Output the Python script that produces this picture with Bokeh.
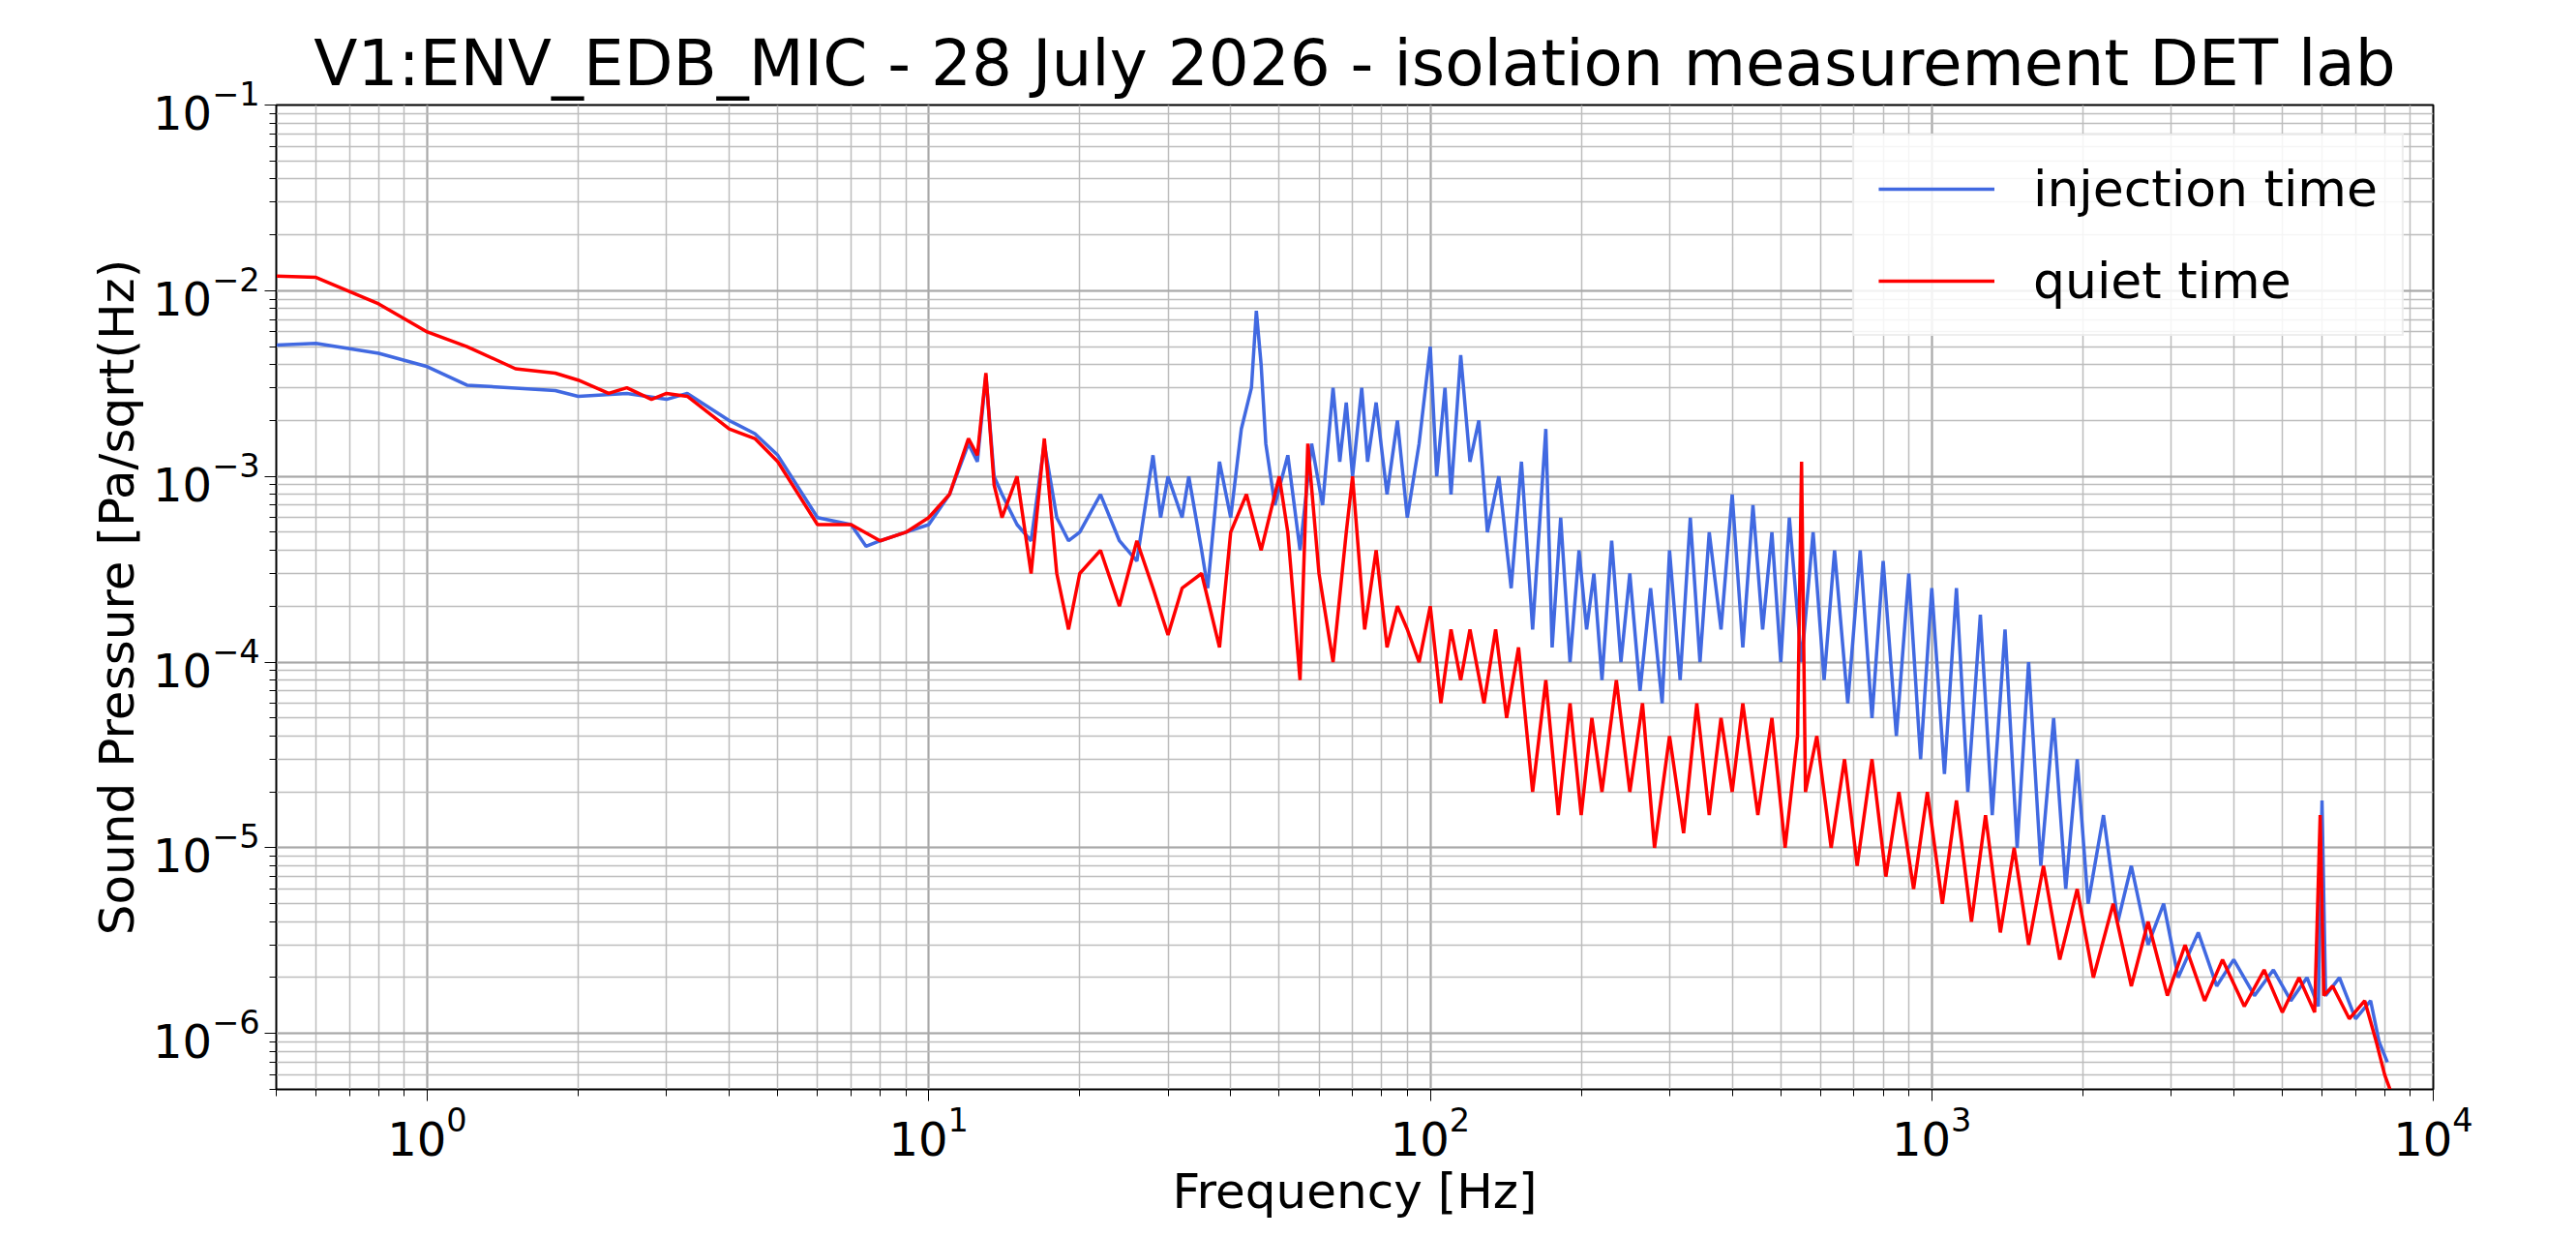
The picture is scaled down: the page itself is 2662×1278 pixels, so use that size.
from bokeh.plotting import figure
from bokeh.models import Legend, LegendItem
from bokeh.embed import file_html
from bokeh.resources import INLINE

# injection time (blue)
inj_f = [0.5, 0.6, 0.8, 1.0, 1.2, 1.8, 2.0, 2.5, 3.0, 3.3, 4.0, 4.5, 5.0, 6.0, 7.0, 7.5, 8.0, 9.0, 10.0, 11.0,
         12.0, 12.5, 13.0, 13.5, 14.0, 15.0, 16.0, 17.0, 18.0, 19.0, 20.0, 22.0, 24.0, 26.0, 28.0, 29.0, 30.0,
         32.0, 33.0, 35.0, 36.0, 38.0, 40.0, 42.0, 44.0, 45.0, 46.0, 47.0, 49.0, 52.0, 55.0, 58.0, 61.0, 64.0,
         66.0, 68.0, 70.0, 73.0, 75.0, 78.0, 82.0, 86.0, 90.0, 95.0, 100.0, 103.0, 107.0, 110.0, 115.0, 120.0,
         125.0, 130.0, 137.0, 145.0, 152.0, 160.0, 170.0, 175.0, 182.0, 190.0, 198.0, 205.0, 212.0, 220.0,
         230.0, 240.0, 250.0, 262.0, 275.0, 290.0, 300.0, 315.0, 330.0, 345.0, 360.0, 380.0, 400.0, 420.0,
         440.0, 460.0, 480.0, 500.0, 520.0, 550.0, 580.0, 610.0, 640.0, 680.0, 720.0, 760.0, 800.0, 850.0,
         900.0, 950.0, 1000.0, 1060.0, 1120.0, 1180.0, 1250.0, 1320.0, 1400.0, 1480.0, 1560.0, 1650.0, 1750.0,
         1850.0, 1950.0, 2050.0, 2200.0, 2350.0, 2500.0, 2700.0, 2900.0, 3100.0, 3400.0, 3700.0, 4000.0,
         4400.0, 4800.0, 5200.0, 5600.0, 5900.0, 6000.0, 6100.0, 6500.0, 7000.0, 7500.0, 7800.0, 8100.0]
inj_v = [5.1e-3, 5.2e-3, 4.6e-3, 3.9e-3, 3.1e-3, 2.9e-3, 2.7e-3, 2.8e-3, 2.6e-3, 2.8e-3, 2.0e-3, 1.7e-3, 1.3e-3, 6.0e-4, 5.5e-4, 4.2e-4, 4.5e-4, 5.0e-4, 5.5e-4, 8.0e-4,
         1.5e-3, 1.2e-3, 3.5e-3, 1.0e-3, 8.0e-4, 5.5e-4, 4.5e-4, 1.5e-3, 6.0e-4, 4.5e-4, 5.0e-4, 8.0e-4, 4.5e-4, 3.5e-4, 1.3e-3, 6.0e-4, 1.0e-3,
         6.0e-4, 1.0e-3, 4.0e-4, 2.5e-4, 1.2e-3, 6.0e-4, 1.8e-3, 3.0e-3, 7.8e-3, 4.0e-3, 1.5e-3, 7.0e-4, 1.3e-3, 4.0e-4, 1.5e-3, 7.0e-4, 3.0e-3,
         1.2e-3, 2.5e-3, 1.0e-3, 3.0e-3, 1.2e-3, 2.5e-3, 8.0e-4, 2.0e-3, 6.0e-4, 1.5e-3, 5.0e-3, 1.0e-3, 3.0e-3, 8.0e-4, 4.5e-3, 1.2e-3,
         2.0e-3, 5.0e-4, 1.0e-3, 2.5e-4, 1.2e-3, 1.5e-4, 1.8e-3, 1.2e-4, 6.0e-4, 1.0e-4, 4.0e-4, 1.5e-4, 3.0e-4, 8.0e-5,
         4.5e-4, 1.0e-4, 3.0e-4, 7.0e-5, 2.5e-4, 6.0e-5, 4.0e-4, 8.0e-5, 6.0e-4, 1.0e-4, 5.0e-4, 1.5e-4, 8.0e-4, 1.2e-4,
         7.0e-4, 1.5e-4, 5.0e-4, 1.0e-4, 6.0e-4, 1.0e-4, 5.0e-4, 8.0e-5, 4.0e-4, 6.0e-5, 4.0e-4, 5.0e-5, 3.5e-4, 4.0e-5,
         3.0e-4, 3.0e-5, 2.5e-4, 2.5e-5, 2.5e-4, 2.0e-5, 1.8e-4, 1.5e-5, 1.5e-4, 1.0e-5, 1.0e-4, 8.0e-6, 5.0e-5,
         6.0e-6, 3.0e-5, 5.0e-6, 1.5e-5, 4.0e-6, 8.0e-6, 3.0e-6, 5.0e-6, 2.0e-6, 3.5e-6, 1.8e-6, 2.5e-6,
         1.6e-6, 2.2e-6, 1.5e-6, 2.0e-6, 1.4e-6, 1.8e-5, 1.6e-6, 2.0e-6, 1.2e-6, 1.5e-6, 9.0e-7, 7.0e-7, 5.0e-7]

# quiet time (red)
qt_f = [0.5, 0.6, 0.8, 1.0, 1.2, 1.5, 1.8, 2.0, 2.3, 2.5, 2.8, 3.0, 3.3, 4.0, 4.5, 5.0, 6.0, 7.0, 8.0, 9.0,
        10.0, 11.0, 12.0, 12.5, 13.0, 13.5, 14.0, 15.0, 16.0, 17.0, 18.0, 19.0, 20.0, 22.0, 24.0, 26.0,
        28.0, 30.0, 32.0, 35.0, 38.0, 40.0, 43.0, 46.0, 50.0, 52.0, 55.0, 57.0, 60.0, 64.0, 68.0, 70.0,
        74.0, 78.0, 82.0, 86.0, 90.0, 95.0, 100.0, 105.0, 110.0, 115.0, 120.0, 128.0, 135.0, 142.0, 150.0,
        160.0, 170.0, 180.0, 190.0, 200.0, 210.0, 220.0, 235.0, 250.0, 265.0, 280.0, 300.0, 320.0, 340.0,
        360.0, 380.0, 400.0, 420.0, 450.0, 480.0, 510.0, 540.0, 550.0, 560.0, 590.0, 630.0, 670.0, 710.0,
        760.0, 810.0, 860.0, 920.0, 980.0, 1050.0, 1120.0, 1200.0, 1280.0, 1370.0, 1460.0, 1560.0, 1670.0,
        1800.0, 1950.0, 2100.0, 2300.0, 2500.0, 2700.0, 2950.0, 3200.0, 3500.0, 3800.0, 4200.0, 4600.0,
        5000.0, 5400.0, 5800.0, 5950.0, 6050.0, 6300.0, 6800.0, 7300.0, 7700.0, 8000.0, 8200.0]
qt_v = [1.2e-2, 1.18e-2, 8.5e-3, 6.0e-3, 5.0e-3, 3.8e-3, 3.6e-3, 3.3e-3, 2.8e-3, 3.0e-3, 2.6e-3, 2.8e-3, 2.7e-3, 1.8e-3, 1.6e-3, 1.2e-3, 5.5e-4, 5.5e-4, 4.5e-4, 5.0e-4,
        6.0e-4, 8.0e-4, 1.6e-3, 1.3e-3, 3.6e-3, 9.0e-4, 6.0e-4, 1.0e-3, 3.0e-4, 1.6e-3, 3.0e-4, 1.5e-4, 3.0e-4, 4.0e-4, 2.0e-4, 4.5e-4,
        2.5e-4, 1.4e-4, 2.5e-4, 3.0e-4, 1.2e-4, 5.0e-4, 8.0e-4, 4.0e-4, 1.0e-3, 5.0e-4, 8.0e-5, 1.5e-3, 3.0e-4, 1.0e-4, 5.0e-4, 1.0e-3,
        1.5e-4, 4.0e-4, 1.2e-4, 2.0e-4, 1.5e-4, 1.0e-4, 2.0e-4, 6.0e-5, 1.5e-4, 8.0e-5, 1.5e-4, 6.0e-5, 1.5e-4, 5.0e-5, 1.2e-4,
        2.0e-5, 8.0e-5, 1.5e-5, 6.0e-5, 1.5e-5, 5.0e-5, 2.0e-5, 8.0e-5, 2.0e-5, 6.0e-5, 1.0e-5, 4.0e-5, 1.2e-5, 6.0e-5,
        1.5e-5, 5.0e-5, 2.0e-5, 6.0e-5, 1.5e-5, 5.0e-5, 1.0e-5, 4.0e-5, 1.2e-3, 2.0e-5, 4.0e-5, 1.0e-5, 3.0e-5, 8.0e-6,
        3.0e-5, 7.0e-6, 2.0e-5, 6.0e-6, 2.0e-5, 5.0e-6, 1.8e-5, 4.0e-6, 1.5e-5, 3.5e-6, 1.0e-5, 3.0e-6, 8.0e-6,
        2.5e-6, 6.0e-6, 2.0e-6, 5.0e-6, 1.8e-6, 4.0e-6, 1.6e-6, 3.0e-6, 1.5e-6, 2.5e-6, 1.4e-6, 2.2e-6,
        1.3e-6, 2.0e-6, 1.3e-6, 1.5e-5, 1.6e-6, 1.8e-6, 1.2e-6, 1.5e-6, 9.0e-7, 6.0e-7, 5.0e-7]

FONT = "DejaVu Sans"

p = figure(width=2646, height=1262, x_axis_type="log", y_axis_type="log",
           x_range=(0.5, 1e4), y_range=(5e-7, 1e-1),
           output_backend="svg", toolbar_location=None,
           min_border_left=285, min_border_right=132, min_border_top=108, min_border_bottom=135,
           title="V1:ENV_EDB_MIC - 28 July 2026 - isolation measurement DET lab")
p.title.text_font = FONT
p.title.text_font_size = "66px"
p.title.text_font_style = "normal"
p.title.text_color = "black"
p.title.align = "center"

p.outline_line_color = "black"
p.outline_line_width = 2

for ax in (p.xaxis, p.yaxis):
    ax.axis_label_text_font = FONT
    ax.axis_label_text_font_size = "50px"
    ax.axis_label_text_font_style = "normal"
    ax.axis_label_text_color = "black"
    ax.major_label_text_font = FONT
    ax.major_label_text_font_size = "48px"
    ax.major_label_text_color = "black"
    ax.axis_line_color = "black"
    ax.major_tick_line_color = "black"
    ax.minor_tick_line_color = "black"
    ax.major_tick_out = 12
    ax.minor_tick_out = 7
    ax.major_tick_in = 0
    ax.minor_tick_in = 0
p.xaxis.axis_label = "Frequency [Hz]"
p.yaxis.axis_label = "Sound Pressure [Pa/sqrt(Hz)"

p.grid.grid_line_color = "#a8a8a8"
p.grid.grid_line_width = 2
p.grid.minor_grid_line_color = "#bdbdbd"
p.grid.minor_grid_line_width = 1.5

r1 = p.line(inj_f, inj_v, line_color="royalblue", line_width=3.5)
r2 = p.line(qt_f, qt_v, line_color="red", line_width=3.5)

legend = Legend(items=[LegendItem(label="injection time", renderers=[r1]),
                       LegendItem(label="quiet time", renderers=[r2])],
                location="top_right", label_text_font=FONT, label_text_font_size="52px",
                label_text_color="black", label_standoff=40,
                glyph_width=120, glyph_height=50, spacing=35, padding=25, margin=30,
                border_line_color="#dddddd", border_line_width=2, background_fill_alpha=0.85)
p.add_layout(legend)

open("out.html", "w").write(file_html(p, INLINE))
